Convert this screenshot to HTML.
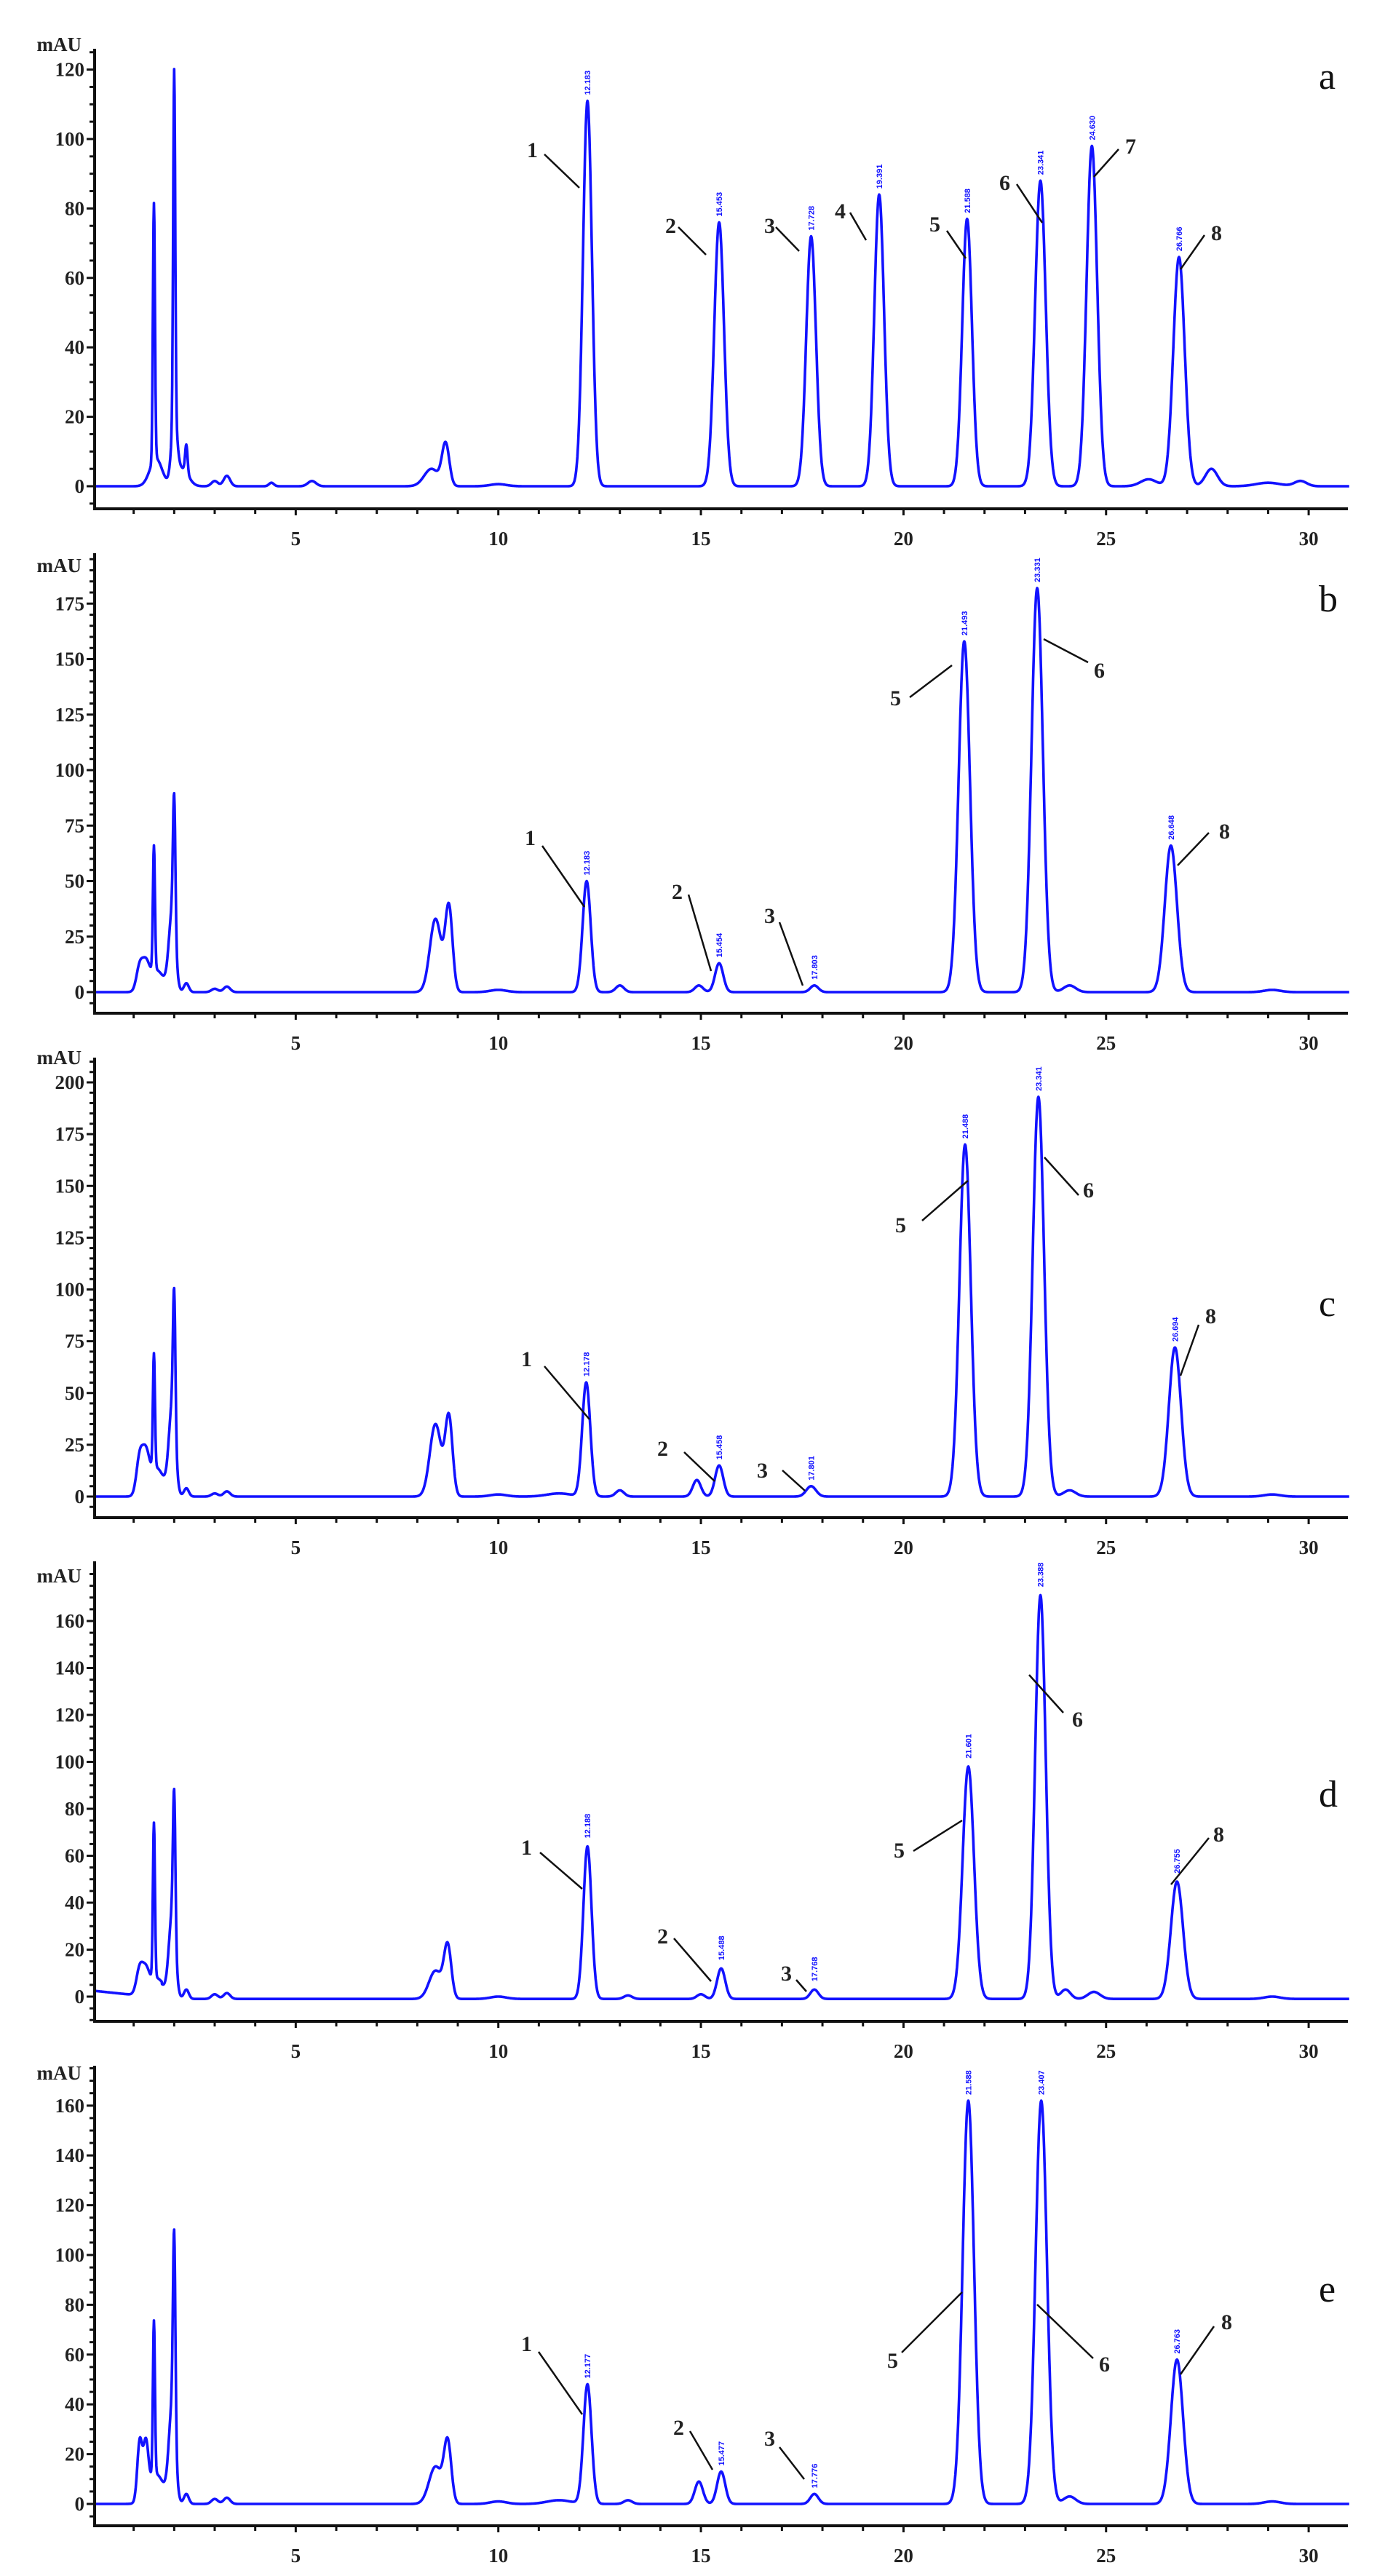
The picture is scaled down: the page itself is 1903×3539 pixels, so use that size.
<!DOCTYPE html>
<html><head><meta charset="utf-8">
<style>
html,body{margin:0;padding:0;background:#fff;}
svg{display:block;}
.t{font-family:"Liberation Serif",serif;font-weight:bold;font-size:27px;fill:#222;}
.n{font-family:"Liberation Serif",serif;font-weight:bold;font-size:30px;fill:#222;}
.L{font-family:"Liberation Serif",serif;font-size:52px;fill:#111;}
.rt{font-family:"Liberation Sans",sans-serif;font-weight:bold;font-size:11px;fill:#1010ff;}
</style></head>
<body>
<svg id="s" width="1903" height="3539" viewBox="0 0 1903 3539" xmlns="http://www.w3.org/2000/svg">
<g id="g"></g>
<text class="L" x="1812" y="122">a</text>
<text class="L" x="1812" y="840">b</text>
<text class="L" x="1812" y="1808">c</text>
<text class="L" x="1812" y="2482">d</text>
<text class="L" x="1812" y="3162">e</text>
<text class="t" x="112" y="70" text-anchor="end">mAU</text>
<text class="t" x="112" y="786" text-anchor="end">mAU</text>
<text class="t" x="112" y="1462" text-anchor="end">mAU</text>
<text class="t" x="112" y="2174" text-anchor="end">mAU</text>
<text class="t" x="112" y="2857" text-anchor="end">mAU</text>
<!-- a -->
<text class="n" x="724" y="216">1</text>
<text class="n" x="914" y="320">2</text>
<text class="n" x="1050" y="320">3</text>
<text class="n" x="1147" y="300">4</text>
<text class="n" x="1277" y="318">5</text>
<text class="n" x="1373" y="261">6</text>
<text class="n" x="1546" y="211">7</text>
<text class="n" x="1664" y="330">8</text>
<!-- b -->
<text class="n" x="721" y="1161">1</text>
<text class="n" x="923" y="1235">2</text>
<text class="n" x="1050" y="1268">3</text>
<text class="n" x="1223" y="969">5</text>
<text class="n" x="1503" y="931">6</text>
<text class="n" x="1675" y="1152">8</text>
<!-- c -->
<text class="n" x="716" y="1877">1</text>
<text class="n" x="903" y="2000">2</text>
<text class="n" x="1040" y="2030">3</text>
<text class="n" x="1230" y="1693">5</text>
<text class="n" x="1488" y="1645">6</text>
<text class="n" x="1656" y="1818">8</text>
<!-- d -->
<text class="n" x="716" y="2548">1</text>
<text class="n" x="903" y="2670">2</text>
<text class="n" x="1073" y="2721">3</text>
<text class="n" x="1228" y="2552">5</text>
<text class="n" x="1473" y="2372">6</text>
<text class="n" x="1667" y="2530">8</text>
<!-- e -->
<text class="n" x="716" y="3230">1</text>
<text class="n" x="925" y="3345">2</text>
<text class="n" x="1050" y="3360">3</text>
<text class="n" x="1219" y="3253">5</text>
<text class="n" x="1510" y="3258">6</text>
<text class="n" x="1678" y="3200">8</text>
</svg>
<script>
(function(){
var NS="http://www.w3.org/2000/svg",g=document.getElementById('g');
var X0=128,PX=55.67,AX=130,XE=1852;
function el(n,a,t){var e=document.createElementNS(NS,n);for(var k in a)e.setAttribute(k,a[k]);if(t!==undefined)e.textContent=t;g.appendChild(e);return e;}
var P=[
 {b:699,z:668,s:4.77,mx:120,st:20,mn:-5,
  pk:[[1.5,74,.025],[1.55,8,.15],[2.0,100,.025],[2.0,18,.07],[2.3,8,.03],[2.2,5,.15],[3.0,1.5,.08],[3.3,3,.08],[4.4,1,.06],[5.4,1.5,.1],[8.35,5,.18],[8.7,12,.09],[10,.6,.2],[12.2,111,.11],[15.45,76,.12],[17.72,72,.12],[19.4,84,.12],[21.57,77,.12],[23.38,88,.13],[24.65,98,.13],[26.8,66,.14],[26.05,2,.2],[27.6,5,.15],[29,1,.3],[29.8,1.5,.15]],
  lines:[[748,212,796,258],[932,312,970,350],[1066,312,1098,345],[1168,292,1190,330],[1301,317,1327,355],[1397,253,1432,306],[1537,205,1503,243],[1655,323,1622,370]],
  rt:[[12.2,"12.183"],[15.45,"15.453"],[17.72,"17.728"],[19.4,"19.391"],[21.57,"21.588"],[23.38,"23.341"],[24.65,"24.630"],[26.8,"26.766"]]},
 {b:1392,z:1363,s:3.05,mx:175,st:25,mn:-5,
  pk:[[1.15,11,.08],[1.3,9,.08],[1.5,56,.025],[1.55,10,.2],[2.0,60,.03],[1.95,35,.08],[2.3,4,.06],[3.0,1.5,.08],[3.3,2.5,.08],[8.45,33,.14],[8.78,38,.09],[10,1,.2],[12.18,50,.1],[13.0,3,.1],[14.95,3,.1],[15.45,13,.1],[17.8,3,.1],[21.5,158,.14],[23.3,182,.14],[24.1,3,.15],[26.6,66,.15],[29.1,1,.2]],
  lines:[[745,1162,803,1246],[946,1229,977,1334],[1071,1267,1103,1354],[1250,958,1308,914],[1495,910,1434,878],[1661,1144,1618,1189]],
  rt:[[12.18,"12.183"],[15.45,"15.454"],[17.8,"17.803"],[21.5,"21.493"],[23.3,"23.331"],[26.6,"26.648"]]},
 {b:2085,z:2056,s:2.845,mx:200,st:25,mn:-5,
  pk:[[1.15,18,.08],[1.3,15,.08],[1.5,55,.025],[1.55,14,.2],[2.0,65,.03],[1.95,42,.08],[2.3,4,.06],[3.0,1.5,.08],[3.3,2.5,.08],[8.45,35,.14],[8.78,38,.09],[10,1,.2],[11.5,1.5,.3],[12.17,55,.1],[13.0,3,.1],[14.9,8,.1],[15.45,15,.1],[17.72,5,.12],[21.52,170,.14],[23.33,193,.14],[24.1,3,.15],[26.7,72,.15],[29.1,1,.2]],
  lines:[[748,1877,810,1950],[940,1995,982,2035],[1075,2020,1106,2048],[1267,1677,1330,1622],[1482,1642,1435,1590],[1647,1820,1622,1890]],
  rt:[[12.17,"12.178"],[15.45,"15.458"],[17.72,"17.801"],[21.52,"21.488"],[23.33,"23.341"],[26.7,"26.694"]]},
 {b:2777,z:2743,s:3.225,mx:160,st:20,mn:-10,
  pk:[[1.15,11,.08],[1.3,8,.08],[1.5,66,.025],[1.55,8,.2],[2.0,60,.03],[1.95,35,.08],[2.3,4,.06],[3.0,2,.08],[3.3,2.5,.08],[8.45,12,.16],[8.75,22,.09],[10,1,.2],[12.2,65,.1],[13.2,1.5,.1],[15.0,2,.1],[15.5,13,.1],[17.8,4,.1],[21.6,99,.14],[23.38,172,.13],[24.0,4,.12],[24.7,3,.15],[26.75,50,.15],[29.1,1,.2]],
  lines:[[742,2545,800,2595],[926,2663,977,2722],[1094,2720,1108,2736],[1255,2543,1322,2501],[1461,2353,1414,2301],[1661,2525,1609,2589]],
  rt:[[12.2,"12.188"],[15.5,"15.488"],[17.8,"17.768"],[21.6,"21.601"],[23.38,"23.388"],[26.75,"26.755"]]},
 {b:3470,z:3440,s:3.42,mx:160,st:20,mn:-5,
  pk:[[1.15,24,.06],[1.3,20,.06],[1.5,62,.025],[1.55,12,.2],[2.0,78,.03],[1.95,38,.08],[2.3,4,.06],[3.0,2,.08],[3.3,2.5,.08],[8.45,15,.16],[8.75,24,.09],[10,1,.2],[11.5,1.5,.3],[12.2,48,.1],[13.2,1.5,.1],[14.95,9,.1],[15.5,13,.1],[17.8,4,.1],[21.6,162,.14],[23.4,162,.14],[24.1,3,.15],[26.75,58,.15],[29.1,1,.2]],
  lines:[[740,3231,800,3317],[948,3340,979,3393],[1071,3362,1105,3406],[1239,3232,1322,3149],[1502,3240,1425,3166],[1668,3196,1622,3262]],
  rt:[[12.2,"12.177"],[15.5,"15.477"],[17.8,"17.776"],[21.6,"21.588"],[23.4,"23.407"],[26.75,"26.763"]]}
];
P.forEach(function(p,pi){
 var top=p.b-632;
 var d="";
 for(var t=0;t<=31.0001;t+=0.01){
  var y=0;
  if(pi==3){ y+= t<1.7? 3.5-2.5*Math.min(t,1.4)/1.4 : 0; y-=1.0;}
  p.pk.forEach(function(k){var u=(t-k[0])/k[2];if(Math.abs(u)<8)y+=k[1]*Math.exp(-0.5*u*u);});
  var px=X0+PX*t, py=p.z-y*p.s;
  if(px<AX) px=AX;
  d+=(d?"L":"M")+px.toFixed(1)+" "+py.toFixed(1);
 }
 el('path',{d:d,fill:'none',stroke:'#1212ff','stroke-width':3.6,'stroke-linejoin':'round'});
 el('line',{x1:AX,y1:top,x2:AX,y2:p.b+2,stroke:'#111','stroke-width':4});
 el('line',{x1:AX-2,y1:p.b,x2:XE,y2:p.b,stroke:'#111','stroke-width':4});
 for(var v=p.mn;;v+=5){var yy=p.z-v*p.s;if(yy<top+2)break;
  var maj=(v>=0&&v%p.st==0&&v<=p.mx);
  el('line',{x1:maj?AX-11:AX-7,y1:yy,x2:AX,y2:yy,stroke:'#111','stroke-width':3});
  if(maj) el('text',{'class':'t',x:116,y:yy+9,'text-anchor':'end'},String(v));
 }
 for(var m=1;m<=30;m++){var xx=X0+PX*m;var M=m%5==0;
  el('line',{x1:xx,y1:p.b,x2:xx,y2:p.b+(M?9:7),stroke:'#111','stroke-width':3});
  if(M) el('text',{'class':'t',x:xx,y:p.b+50,'text-anchor':'middle'},String(m));
 }
 p.lines.forEach(function(l){el('line',{x1:l[0],y1:l[1],x2:l[2],y2:l[3],stroke:'#111','stroke-width':2.5});});
 p.rt.forEach(function(r){
  var h=0;p.pk.forEach(function(k){var u=(r[0]-k[0])/k[2];if(Math.abs(u)<8)h+=k[1]*Math.exp(-0.5*u*u);});
  var xx=X0+PX*r[0]+4, yy=p.z-h*p.s-8;
  el('text',{'class':'rt',x:xx,y:yy,transform:'rotate(-90 '+xx+' '+yy+')'},r[1]);
 });
});
})();
</script>
</body></html>
